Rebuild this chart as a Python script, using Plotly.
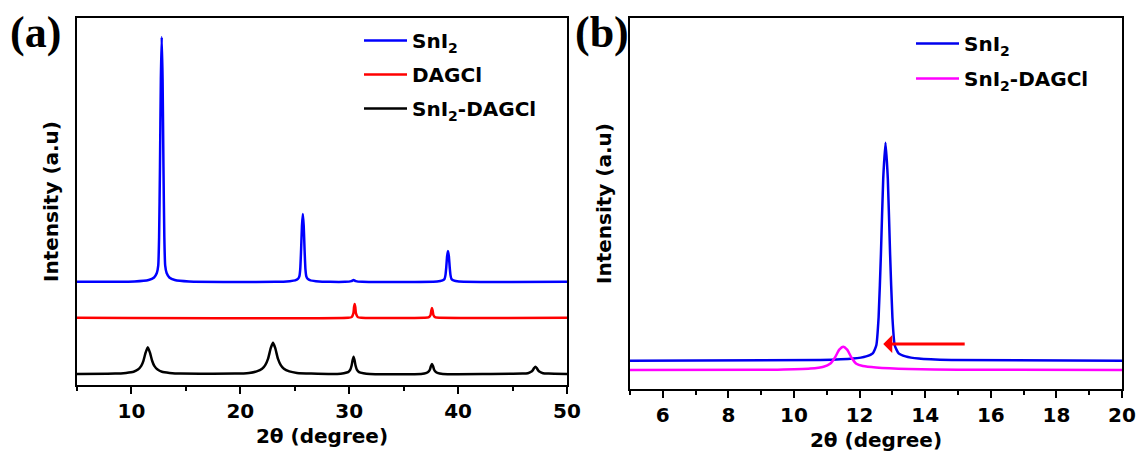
import plotly.graph_objects as go

# ---------------- data (panel a) ----------------
A_SNI2_X = [5, 10.28, 11.58, 12.08, 12.33, 12.46, 12.54, 12.62, 12.70, 12.78, 12.86, 12.94, 13.02, 13.10, 13.23, 13.48, 13.98, 15.28,
            23.24, 24.54, 25.04, 25.29, 25.42, 25.50, 25.58, 25.66, 25.74, 25.82, 25.90, 25.98, 26.06, 26.19, 26.44, 26.94, 28.24,
            29.6, 30.2, 30.4, 30.6, 31.2,
            38.07, 38.57, 38.75, 38.83, 38.91, 38.99, 39.07, 39.15, 39.23, 39.31, 39.39, 39.57, 40.07, 50]
A_SNI2_Y = [281, 282, 286, 293, 305, 325, 403, 594, 833, 948, 833, 594, 403, 325, 305, 293, 286, 282,
            281, 283, 285, 289, 296, 315, 368, 434, 466, 434, 368, 315, 296, 289, 285, 283, 281,
            281, 283, 286, 283, 281,
            282, 285, 289, 298, 320, 351, 365, 351, 320, 298, 289, 285, 282, 281]

A_DAGCL_X = [5, 29.9, 30.22, 30.38, 30.44, 30.5, 30.56, 30.62, 30.78, 31.1,
             36.9, 37.28, 37.46, 37.54, 37.6, 37.66, 37.74, 37.92, 38.3, 50]
A_DAGCL_Y = [183, 183, 185, 195, 212, 221, 212, 195, 185, 183,
             183, 184, 190, 203, 210, 203, 190, 184, 183, 183]

A_MIX_X = [5, 8.5, 9.5, 10.2, 10.6, 10.9, 11.1, 11.3, 11.5, 11.7, 11.9, 12.1, 12.4, 12.8, 13.5, 14.5,
           19.5, 20.8, 21.5, 22.0, 22.3, 22.55, 22.8, 23.0, 23.2, 23.45, 23.7, 24.0, 24.5, 25.2, 26.5,
           28.9, 29.5, 29.9, 30.1, 30.22, 30.3, 30.4, 30.5, 30.58, 30.7, 30.9, 31.3, 31.9,
           36.6, 37.1, 37.3, 37.42, 37.5, 37.6, 37.7, 37.78, 37.9, 38.1, 38.6,
           45.9, 46.4, 46.7, 46.85, 46.98, 47.1, 47.22, 47.35, 47.5, 47.8, 48.3, 50]
A_MIX_Y = [30, 31, 33, 36, 42, 52, 66, 88, 103, 88, 66, 52, 42, 36, 33, 31,
           31, 33, 37, 44, 55, 72, 101, 115, 101, 72, 55, 44, 37, 33, 31,
           30, 32, 35, 42, 53, 66, 77, 66, 53, 42, 35, 32, 30,
           30, 33, 37, 43, 51, 57, 51, 43, 37, 33, 30,
           31, 32, 36, 40, 46, 50, 46, 40, 36, 32, 31, 30]

# ---------------- data (panel b) ----------------
B_SNI2_X = [5, 10.8, 11.8, 12.2, 12.4, 12.51, 12.58, 12.65, 12.72, 12.79, 12.86, 12.93, 13.0, 13.07, 13.19, 13.4, 13.8, 14.8, 20]
B_SNI2_Y = [76, 78, 82, 88, 96, 118, 194, 363, 567, 664, 567, 363, 194, 118, 96, 88, 82, 78, 76]

B_MIX_X = [5, 9.5, 10.5, 10.9, 11.1, 11.25, 11.38, 11.5, 11.62, 11.75, 11.9, 12.1, 12.5, 13.5, 15, 20]
B_MIX_Y = [51, 52, 55, 60, 68, 85, 106, 114, 106, 85, 68, 62, 58, 54, 52, 51]

ARROW_TAIL = (15.25, 121)
ARROW_HEAD = (12.72, 121)

A_XTICKS = [10, 20, 30, 40, 50]
B_XTICKS = [6, 8, 10, 12, 14, 16, 18, 20]

NAMES_A = ["SnI<sub>2</sub>", "DAGCl", "SnI<sub>2</sub>-DAGCl"]
NAMES_B = ["SnI<sub>2</sub>", "SnI<sub>2</sub>-DAGCl"]

# ---------------- figure ----------------
W, H = 1139, 453
FONT = "DejaVu Sans, Arial, sans-serif"

fig = go.Figure()

def tr(x, y, name, color, xa, ya, legend, width=2.5):
    return go.Scatter(x=x, y=y, name=name, mode="lines",
                      line=dict(color=color, width=width, shape="spline", smoothing=0.5),
                      xaxis=xa, yaxis=ya, legend=legend, legendgroup=name + legend)

fig.add_trace(tr(A_SNI2_X, A_SNI2_Y, NAMES_A[0], "#0000FF", "x", "y", "legend"))
fig.add_trace(tr(A_DAGCL_X, A_DAGCL_Y, NAMES_A[1], "#FF0000", "x", "y", "legend"))
fig.add_trace(tr(A_MIX_X, A_MIX_Y, NAMES_A[2], "#000000", "x", "y", "legend"))
fig.add_trace(tr(B_SNI2_X, B_SNI2_Y, NAMES_B[0], "#0000EE", "x2", "y2", "legend2"))
fig.add_trace(tr(B_MIX_X, B_MIX_Y, NAMES_B[1], "#FF00FF", "x2", "y2", "legend2"))

def xax(domain, rng, ticks, minor_dtick, anchor):
    return dict(domain=domain, range=rng, anchor=anchor, automargin=False,
                showline=True, linecolor="black", linewidth=2, mirror=True,
                showgrid=False, zeroline=False,
                ticks="outside", ticklen=7, tickwidth=2, tickcolor="black",
                tickvals=ticks, ticktext=[str(t) for t in ticks],
                tickfont=dict(family=FONT, size=20, color="black", weight="bold"),
                minor=dict(dtick=minor_dtick, tick0=0, ticks="outside", ticklen=4, tickwidth=2, tickcolor="black"),
                title=dict(text="2θ (degree)", font=dict(family=FONT, size=20, color="black", weight="bold"), standoff=7))

def yax(domain, anchor, standoff):
    return dict(domain=domain, range=[0, 1000], anchor=anchor, automargin=False,
                showline=True, linecolor="black", linewidth=2, mirror=True,
                showgrid=False, zeroline=False, ticks="", showticklabels=False,
                title=dict(text="Intensity (a.u)", font=dict(family=FONT, size=20, color="black", weight="bold"), standoff=standoff))

fig.update_layout(
    width=W, height=H, margin=dict(l=0, r=0, t=0, b=0, pad=0, autoexpand=False),
    paper_bgcolor="white", plot_bgcolor="white",
    xaxis=xax([77 / W, 567 / W], [5, 50], A_XTICKS, 5, "y"),
    yaxis=yax([1 - 385 / H, 1 - 18 / H], "x", 11),
    xaxis2=xax([630 / W, 1122 / W], [5, 20], B_XTICKS, 1, "y2"),
    yaxis2=yax([1 - 389 / H, 1 - 18 / H], "x2", 11),
    legend=dict(x=359 / W, y=1 - 21 / H, xanchor="left", yanchor="top", bgcolor="rgba(0,0,0,0)",
                font=dict(family=FONT, size=20, color="black", weight="bold"),
                itemwidth=43, tracegroupgap=5),
    legend2=dict(x=911 / W, y=1 - 24 / H, xanchor="left", yanchor="top", bgcolor="rgba(0,0,0,0)",
                 font=dict(family=FONT, size=20, color="black", weight="bold"),
                 itemwidth=43, tracegroupgap=6),
    showlegend=True,
)

fig.add_annotation(x=ARROW_HEAD[0], y=ARROW_HEAD[1], ax=ARROW_TAIL[0], ay=ARROW_TAIL[1],
                   xref="x2", yref="y2", axref="x2", ayref="y2", text="",
                   showarrow=True, arrowhead=1, arrowsize=1.0, arrowwidth=3, arrowcolor="#FF0000")

for label, xp in [("(a)", 8), ("(b)", 573)]:
    fig.add_annotation(x=xp / W, y=1 - 6 / H, xref="paper", yref="paper", xanchor="left", yanchor="top",
                       text=label, showarrow=False,
                       font=dict(family="Liberation Serif, Times New Roman, serif", size=44, color="black", weight="bold"))

fig.write_html("out.html")
